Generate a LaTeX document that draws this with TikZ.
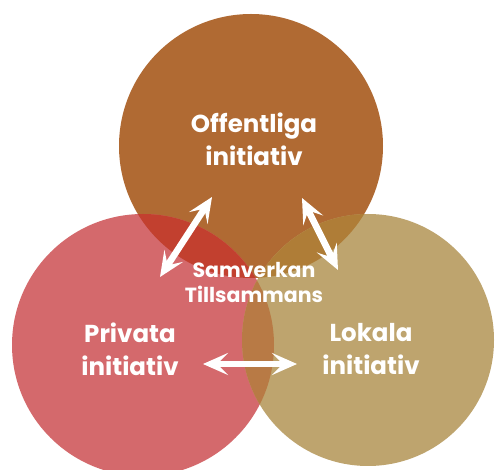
\documentclass[tikz,border=0pt]{standalone}
\usepackage{fontspec}
\setmainfont{Poppins}
\usetikzlibrary{arrows.meta}
\definecolor{cTop}{HTML}{B06A33}
\definecolor{cLeft}{HTML}{D4696C}
\definecolor{cRight}{HTML}{BEA46E}
\definecolor{cTL}{HTML}{C2402F}
\definecolor{cTR}{HTML}{AF7D37}
\definecolor{cLR}{HTML}{B87A45}
\definecolor{cAll}{HTML}{B45A36}
\tikzset{
  lbl/.style={text=white, font=\bfseries\fontsize{24.5}{33}\selectfont, align=center, inner sep=0pt},
  lblsmall/.style={text=white, font=\bfseries\fontsize{20.5}{25}\selectfont, align=center, inner sep=0pt},
  dblarrow/.style={draw=white, line width=6.5pt, {Stealth[length=25pt,width=22pt,inset=11pt]}-{Stealth[length=25pt,width=22pt,inset=11pt]}}
}
\begin{document}
\begin{tikzpicture}[x=1pt,y=-1pt]
\useasboundingbox (0,0) rectangle (496,470);
\fill[white] (0,0) rectangle (496,470);
\begin{scope}
\clip (0,0) rectangle (496,470);
% base circles
\fill[cTop] (251,146) circle[radius=132];
\fill[cLeft] (143,345) circle[radius=131];
\fill[cRight] (368,340) circle[radius=126];
% overlaps
\begin{scope}
  \clip (251,146) circle[radius=132];
  \fill[cTL] (143,345) circle[radius=131];
  \fill[cTR] (368,340) circle[radius=126];
\end{scope}
\begin{scope}
  \clip (143,345) circle[radius=131];
  \fill[cLR] (368,340) circle[radius=126];
  \clip (251,146) circle[radius=132];
  \fill[cAll] (368,340) circle[radius=126];
\end{scope}
\end{scope}
% labels
\node[lbl] (off) at (254,139) {Offentliga\\initiativ};
\node[lbl] (priv) at (130,349) {Privata\\initiativ};
\node[lbl] (lok) at (371,349) {Lokala\\initiativ};
\node[lblsmall] (samv) at (254,282) {Samverkan\\Tillsammans};
% arrows
\coordinate (a1) at (160,277);
\coordinate (a2) at (212,197);
\coordinate (b1) at (302,198);
\coordinate (b2) at (338,270);
\coordinate (c1) at (203,364);
\coordinate (c2) at (297,364);
\draw[dblarrow] (a1) -- (a2);
\draw[dblarrow] (b1) -- (b2);
\draw[dblarrow] (c1) -- (c2);
\end{tikzpicture}
\end{document}
